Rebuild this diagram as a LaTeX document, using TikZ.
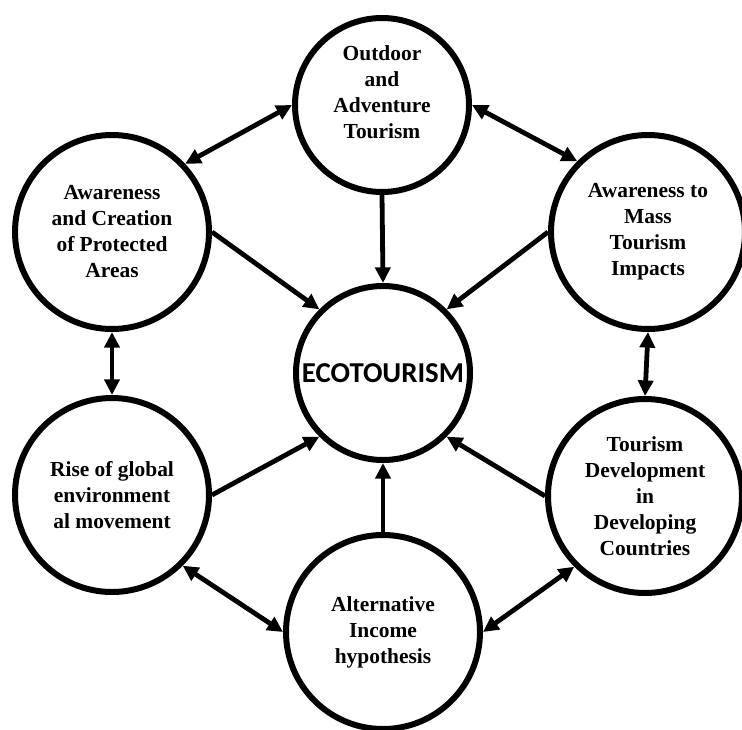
\documentclass[tikz,border=0pt]{standalone}
\usepackage{fontspec}
\setmainfont{Liberation Serif}
\newfontfamily\ecofont{Carlito}
\usepackage{tikz}
\usetikzlibrary{arrows.meta}

\begin{document}
\begin{tikzpicture}[
  >={Triangle[length=0.78cm,width=0.75cm]},
  bubble/.style={circle,draw=black,line width=0.3cm,inner sep=0pt,align=center,
    font=\fontsize{30.5}{37}\selectfont\bfseries},
  small/.style={bubble,minimum size=8.7cm},
  big/.style={bubble,minimum size=9.7cm},
  link/.style={line width=0.24cm}
]
\useasboundingbox (0,0) rectangle (37.1,-36.45);
\node[small] (eco) at (19.15,-18.65) {\ecofont\fontsize{41}{46}\selectfont\bfseries ECOTOURISM};
\node[small] (top) at (19.1,-5.25) {\raisebox{0.3cm}[0pt][0pt]{\begin{tabular}{@{}c@{}}Outdoor\\and\\Adventure\\Tourism\end{tabular}}};
\node[big] (tl) at (5.6,-11.6) {Awareness\\and Creation\\of Protected\\Areas};
\node[big] (tr) at (32.4,-11.6) {Awareness to\\Mass\\Tourism\\Impacts};
\node[big] (bl) at (5.6,-24.75) {Rise of global\\environment\\al movement};
\node[big] (br) at (32.25,-24.8) {Tourism\\Development\\in\\Developing\\Countries};
\node[big] (bot) at (19.15,-31.6) {Alternative\\Income\\hypothesis};
\draw[link,<->] (tl.43) -- (top.west);
\draw[link,<->] (top.east) -- (tr.135);
\draw[link,->] (tl.east) -- (eco.135);
\draw[link,->] (top.south) -- (eco.north);
\draw[link,->] (tr.west) -- (eco.45);
\draw[link,<->] (tl.south) -- (bl.north);
\draw[link,<->] (tr.south) -- (br.north);
\draw[link,->] (bl.east) -- (eco.225);
\draw[link,->] (br.west) -- (eco.-45);
\draw[link,->] (bot.north) -- (eco.south);
\draw[link,<->] (bl.-45) -- (bot.west);
\draw[link,<->] (bot.east) -- (br.225);
\end{tikzpicture}
\end{document}
